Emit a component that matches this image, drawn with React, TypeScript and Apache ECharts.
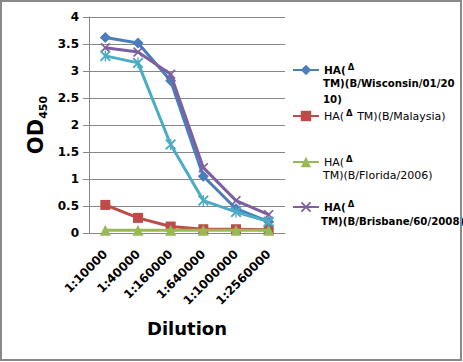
import React, { useEffect, useRef } from "react";
import * as echarts from "echarts";

const categories = ["1:10000", "1:40000", "1:160000", "1:640000", "1:1000000", "1:2560000"];
const wisconsin = [3.62, 3.52, 2.82, 1.05, 0.45, 0.21];
const malaysia = [0.52, 0.28, 0.12, 0.07, 0.07, 0.06];
const florida = [0.05, 0.05, 0.05, 0.05, 0.05, 0.05];
const brisbane = [3.43, 3.35, 2.94, 1.21, 0.6, 0.34];
const series5 = [3.28, 3.15, 1.64, 0.6, 0.39, 0.21];

const names = [
  "HA(ΔTM)(B/Wisconsin/01/2010)",
  "HA(ΔTM)(B/Malaysia)",
  "HA(ΔTM)(B/Florida/2006)",
  "HA(ΔTM)(B/Brisbane/60/2008)",
  "Series5",
];

const FONT = "DejaVu Sans";
const X_SYM = "path://M0,1.2L1.2,0L5,3.8L8.8,0L10,1.2L6.2,5L10,8.8L8.8,10L5,6.2L1.2,10L0,8.8L3.8,5Z";
const STAR_SYM =
  "path://M0,1.2L1.2,0L5,3.8L8.8,0L10,1.2L6.2,5L10,8.8L8.8,10L5,6.2L1.2,10L0,8.8L3.8,5Z M4.4,0L5.6,0L5.6,10L4.4,10Z";

export default function App() {
  const ref = useRef<HTMLDivElement>(null);
  useEffect(() => {
    document.body.style.margin = "0";
    if (!ref.current) return;
    const chart = echarts.init(ref.current, undefined, { renderer: "svg" });
    const rich = {
      b: { fontFamily: FONT, fontSize: 10.5, fontWeight: "bold", color: "#000" },
      n: { fontFamily: FONT, fontSize: 11, color: "#000" },
      d: { fontFamily: FONT, fontSize: 8.5, fontWeight: "bold", color: "#000", padding: [0, 1, 6, 2] },
    };
    const mkLegend = (name: string, top: number, fmt: string, left = 292) => ({
      data: [name],
      left,
      top,
      padding: 0,
      itemWidth: 26,
      itemHeight: 13,
      selectedMode: false,
      formatter: () => fmt,
      textStyle: { rich },
    });
    const line = (name: string, data: number[], color: string, symbol: string, symbolSize: number, z: number) => ({
      type: "line",
      name,
      data,
      symbol,
      symbolSize,
      z,
      lineStyle: { color, width: 3 },
      itemStyle: { color },
    });
    const contText = (text: string, x: number, y: number, bold: boolean) => ({
      type: "text",
      left: x,
      top: y - 7,
      style: {
        text,
        fontFamily: FONT,
        fontSize: bold ? 10.2 : 11,
        fontWeight: bold ? "bold" : "normal",
        fill: "#000",
      },
    });
    chart.setOption({
      animation: false,
      backgroundColor: "#fff",
      grid: { left: 89, top: 17, right: 178, bottom: 129, containLabel: false },
      xAxis: {
        type: "category",
        data: categories,
        boundaryGap: true,
        axisLine: { lineStyle: { color: "#868686", width: 1 } },
        axisTick: { show: false },
        axisLabel: {
          rotate: 45,
          interval: 0,
          margin: 19,
          fontFamily: FONT,
          fontSize: 12,
          fontWeight: "bold",
          color: "#000",
        },
        name: "Dilution",
        nameLocation: "middle",
        nameGap: 86,
        nameTextStyle: { fontFamily: FONT, fontSize: 18, fontWeight: "bold", color: "#000" },
      },
      yAxis: {
        type: "value",
        min: 0,
        max: 4,
        interval: 0.5,
        axisLine: { show: true, lineStyle: { color: "#868686", width: 1 } },
        axisTick: { show: true, length: 6, lineStyle: { color: "#868686" } },
        splitLine: { lineStyle: { color: "#868686", width: 1 } },
        axisLabel: {
          margin: 10,
          fontFamily: FONT,
          fontSize: 12,
          fontWeight: "bold",
          color: "#000",
        },
        name: "{a|OD}{s|450}",
        nameLocation: "middle",
        nameRotate: 90,
        nameGap: 40,
        nameTextStyle: {
          rich: {
            a: { fontFamily: FONT, fontSize: 21, fontWeight: "bold", color: "#000", lineHeight: 26 },
            s: { fontFamily: FONT, fontSize: 11, fontWeight: "bold", color: "#000", lineHeight: 12, verticalAlign: "bottom" },
          },
        },
      },
      legend: [
        mkLegend(names[0], 62.5, "{b|HA(}{d|Δ}"),
        mkLegend(names[1], 108.5, "{n|HA(}{d|Δ}{n| TM)(B/Malaysia)}"),
        mkLegend(names[2], 154.5, "{n|HA(}{d|Δ}"),
        mkLegend(names[3], 199.5, "{b|HA(}{d|Δ}"),
      ],
      graphic: [
        contText("TM)(B/Wisconsin/01/20", 323, 85, true),
        contText("10)", 323, 101, true),
        contText("TM)(B/Florida/2006)", 323, 177, false),
        contText("TM)(B/Brisbane/60/2008)", 321, 223, true),
        {
          type: "rect",
          shape: { x: 1, y: 1, width: 460, height: 359 },
          style: { fill: "none", stroke: "#898989", lineWidth: 2 },
          silent: true,
        },
      ],
      series: [
        line(names[0], wisconsin, "#4A7EBB", "diamond", 11, 2),
        line(names[1], malaysia, "#BE4B48", "rect", 10, 3),
        line(names[2], florida, "#98B954", "triangle", 11, 4),
        line(names[3], brisbane, "#7D60A0", X_SYM, 10, 5),
        line(names[4], series5, "#4BACC6", STAR_SYM, 11, 6),
      ],
    });
    return () => chart.dispose();
  }, []);
  return <div ref={ref} style={{ width: 463, height: 362 }} />;
}
